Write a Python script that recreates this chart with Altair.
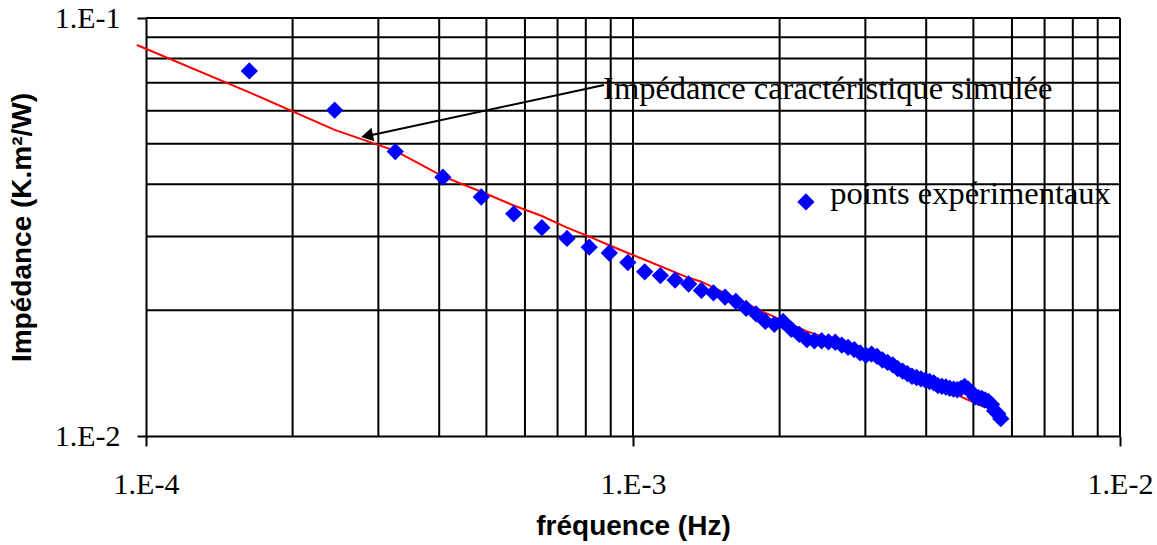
import altair as alt
import pandas as pd

# experimental points (frequency in Hz, impedance in K.m²/W)
freq_exp = [1.63e-4, 2.44e-4, 3.25e-4, 4.07e-4, 4.88e-4, 5.69e-4, 6.50e-4, 7.32e-4, 8.13e-4, 8.94e-4,
            9.76e-4, 1.057e-3, 1.138e-3, 1.220e-3, 1.301e-3, 1.382e-3, 1.463e-3, 1.545e-3, 1.626e-3, 1.707e-3,
            1.789e-3, 1.870e-3, 1.951e-3, 2.033e-3, 2.114e-3, 2.195e-3, 2.276e-3, 2.358e-3, 2.439e-3, 2.520e-3,
            2.602e-3, 2.683e-3, 2.764e-3, 2.846e-3, 2.927e-3, 3.008e-3, 3.089e-3, 3.171e-3, 3.252e-3, 3.333e-3,
            3.415e-3, 3.496e-3, 3.577e-3, 3.659e-3, 3.740e-3, 3.821e-3, 3.902e-3, 3.984e-3, 4.065e-3, 4.146e-3,
            4.228e-3, 4.309e-3, 4.390e-3, 4.472e-3, 4.553e-3, 4.634e-3, 4.715e-3, 4.797e-3, 4.878e-3, 4.959e-3,
            5.041e-3, 5.122e-3, 5.203e-3, 5.285e-3, 5.366e-3, 5.447e-3, 5.528e-3, 5.610e-3, 5.691e-3]
imp_exp = [0.0747, 0.0602, 0.0479, 0.0416, 0.0373, 0.0340, 0.0315, 0.0297, 0.0283, 0.0274,
           0.0260, 0.0247, 0.0242, 0.0236, 0.0231, 0.0223, 0.0220, 0.0215, 0.0210, 0.0202,
           0.0196, 0.0188, 0.0185, 0.0188, 0.0180, 0.0175, 0.0170, 0.0169, 0.0169, 0.0168,
           0.01676, 0.0165, 0.0163, 0.0161, 0.0158, 0.0156, 0.0157, 0.0155, 0.0152, 0.0150,
           0.0148, 0.0145, 0.0143, 0.0141, 0.0139, 0.0138, 0.0137, 0.0136, 0.0135, 0.0134,
           0.0132, 0.01315, 0.0131, 0.0130, 0.01295, 0.0129, 0.0130, 0.01315, 0.01295, 0.0127,
           0.0124, 0.01236, 0.0123, 0.0122, 0.0121, 0.0119, 0.0115, 0.0113, 0.0110]

# simulated characteristic impedance (red curve)
freq_sim = [9.58e-5, 1.63e-4, 2.44e-4, 3.25e-4, 4.07e-4, 4.88e-4, 5.69e-4, 6.50e-4, 7.32e-4, 8.13e-4,
            8.94e-4, 9.76e-4, 1.057e-3, 1.301e-3, 1.382e-3, 1.870e-3, 2.276e-3, 2.764e-3, 3.577e-3, 4.228e-3,
            4.797e-3, 5.203e-3, 5.285e-3]
imp_sim = [0.0862, 0.0664, 0.0540, 0.0481, 0.0418, 0.0384, 0.0356, 0.0336, 0.0315, 0.0300,
           0.0286, 0.0274, 0.0264, 0.0239, 0.0234, 0.0197, 0.0178, 0.0165, 0.0146, 0.0132,
           0.0123, 0.0118, 0.0117]

grid_x = [2e-4, 3e-4, 4e-4, 5e-4, 6e-4, 7e-4, 8e-4, 9e-4, 1e-3,
          2e-3, 3e-3, 4e-3, 5e-3, 6e-3, 7e-3, 8e-3, 9e-3, 1e-2]
grid_y = [2e-2, 3e-2, 4e-2, 5e-2, 6e-2, 7e-2, 8e-2, 9e-2, 1e-1]
tick_x = [1e-4, 1e-3, 1e-2]
tick_y = [1e-2, 1e-1]

# annotations
arrow_tail = (8.72e-4, 0.0691)
arrow_tip = (2.80e-4, 0.0520)
arrow_head = (2.87e-4, 0.0524)
label_sim = ("Impédance caractéristique simulée", 8.68e-4, 0.0639)
legend_marker = (2.265e-3, 0.0363)
label_exp = ("points expérimentaux", 2.54e-3, 0.0359)

SERIF = "Liberation Serif"
SANS = "Liberation Sans"

xs = alt.Scale(type="log", domain=[1e-4, 1e-2], nice=False)
ys = alt.Scale(type="log", domain=[1e-2, 1e-1], nice=False)

df_exp = pd.DataFrame({"f": freq_exp, "z": imp_exp})
df_sim = pd.DataFrame({"f": freq_sim, "z": imp_sim})
df_gx = pd.DataFrame({"f": grid_x})
df_gy = pd.DataFrame({"z": grid_y})

label_expr = "'1.E' + round(log(datum.value) / LN10)"

x_axis = alt.Axis(values=tick_x, labelExpr=label_expr, grid=False, ticks=True, tickSize=10,
                  tickWidth=2, tickColor="black", domain=True, domainColor="black", domainWidth=2,
                  labelFont=SERIF, labelFontSize=30, labelColor="black", labelPadding=23,
                  labelFlush=False, labelOverlap=False,
                  title="fréquence (Hz)", titleFont=SANS, titleFontSize=28, titleFontWeight="bold",
                  titleColor="black", titleX=487, titleY=90, titleBaseline="middle", titleAlign="center")
y_axis = alt.Axis(values=tick_y, labelExpr=label_expr, grid=False, ticks=True, tickSize=9,
                  tickWidth=2, tickColor="black", domain=True, domainColor="black", domainWidth=2,
                  labelFont=SERIF, labelFontSize=30, labelColor="black", labelPadding=17,
                  labelFlush=False, labelOverlap=False,
                  title="Impédance (K.m²/W)", titleFont=SANS, titleFontSize=28, titleFontWeight="bold",
                  titleColor="black", titleX=-124, titleY=209, titleAngle=-90,
                  titleBaseline="middle", titleAlign="center")

X = alt.X("f:Q", scale=xs, axis=x_axis)
Y = alt.Y("z:Q", scale=ys, axis=y_axis)

grid_v = alt.Chart(df_gx).mark_rule(color="black", strokeWidth=2).encode(x=X)
grid_h = alt.Chart(df_gy).mark_rule(color="black", strokeWidth=2).encode(y=Y)

sim_line = alt.Chart(df_sim).mark_line(color="#FF0000", strokeWidth=2, clip=False).encode(x=X, y=Y)

points = alt.Chart(df_exp).mark_point(shape="diamond", filled=True, size=300, color="#0000FF",
                                      opacity=1).encode(x=X, y=Y)

df_arrow = pd.DataFrame({"f": [arrow_tail[0]], "z": [arrow_tail[1]],
                         "f2": [arrow_tip[0]], "z2": [arrow_tip[1]]})
arrow = alt.Chart(df_arrow).mark_rule(color="black", strokeWidth=2).encode(
    x=X, y=Y, x2="f2:Q", y2="z2:Q")
head = alt.Chart(pd.DataFrame({"f": [arrow_head[0]], "z": [arrow_head[1]]})).mark_point(
    shape="triangle", filled=True, size=190, color="black", opacity=1, angle=258).encode(x=X, y=Y)

df_txt = pd.DataFrame({"t": [label_sim[0], label_exp[0]], "f": [label_sim[1], label_exp[1]],
                       "z": [label_sim[2], label_exp[2]]})
texts = alt.Chart(df_txt).mark_text(align="left", baseline="alphabetic", font=SERIF, fontSize=32.5,
                                    color="black").encode(x=X, y=Y, text="t:N")

leg = alt.Chart(pd.DataFrame({"f": [legend_marker[0]], "z": [legend_marker[1]]})).mark_point(
    shape="diamond", filled=True, size=300, color="#0000FF", opacity=1).encode(x=X, y=Y)

chart = alt.layer(grid_v, grid_h, sim_line, points, arrow, head, texts, leg).properties(
    width=974, height=418,
    padding={"left": 146, "top": 18, "right": 37, "bottom": 109},
    autosize=alt.AutoSizeParams(type="none"),
    background="white",
).configure_view(stroke=None)

chart.save("out.html", embed_options={"renderer": "svg", "actions": False})
